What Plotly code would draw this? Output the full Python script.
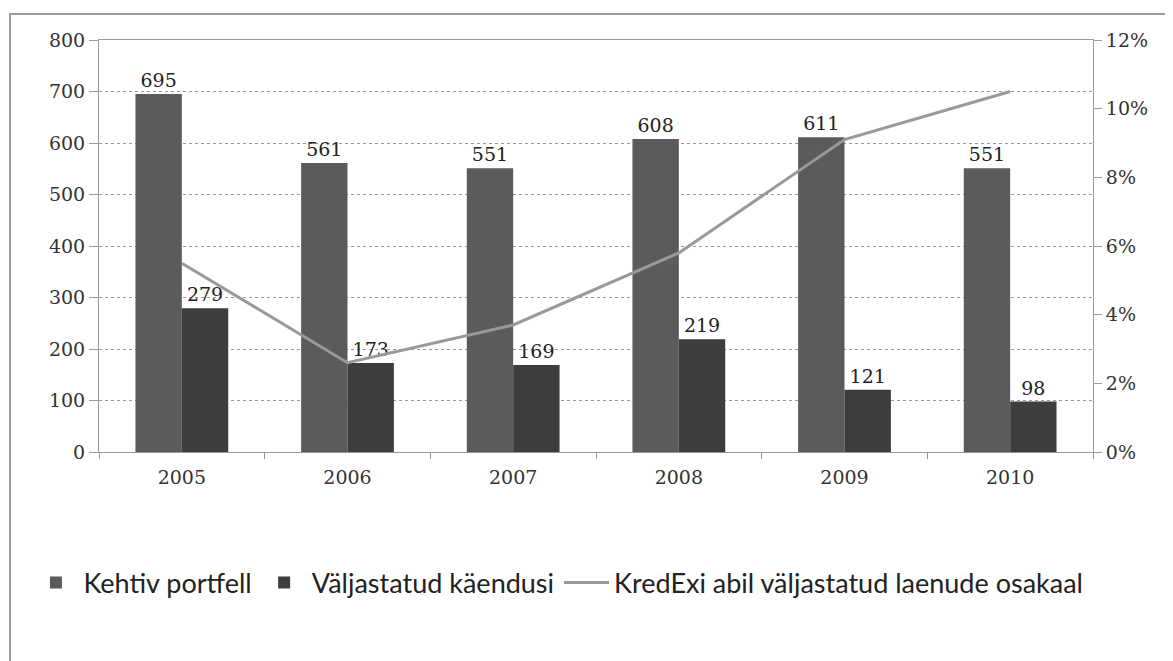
import plotly.graph_objects as go

years = ["2005", "2006", "2007", "2008", "2009", "2010"]
kehtiv = [695, 561, 551, 608, 611, 551]
valjastatud = [279, 173, 169, 219, 121, 98]
osakaal = [5.5, 2.6, 3.7, 5.8, 9.1, 10.5]

serif = "DejaVu Serif"

fig = go.Figure()
fig.add_bar(x=years, y=kehtiv, name="Kehtiv portfell",
            marker=dict(color="#5b5b5b", line=dict(width=0)),
            text=kehtiv, textposition="outside",
            textfont=dict(family=serif, size=19, color="#222"), cliponaxis=False)
fig.add_bar(x=years, y=valjastatud, name="Väljastatud käendusi",
            marker=dict(color="#3d3d3d", line=dict(width=0)),
            text=valjastatud, textposition="outside",
            textfont=dict(family=serif, size=19, color="#222"), cliponaxis=False)
fig.add_scatter(x=years, y=osakaal, name="KredExi abil väljastatud laenude osakaal",
                yaxis="y2", mode="lines", line=dict(color="#999", width=3))

fig.update_layout(
    width=1173, height=661,
    margin=dict(l=91, r=88, t=32, b=217),
    paper_bgcolor="white", plot_bgcolor="white",
    barmode="group", bargap=0.44, bargroupgap=0,
    font=dict(family=serif, size=19, color="#333"),
    uniformtext=dict(minsize=19, mode="show"),
    xaxis=dict(showline=True, linecolor="#999", mirror=True,
               ticks="outside", tickson="boundaries", ticklen=6, tickcolor="#999",
               ticklabelstandoff=8,
               tickfont=dict(family=serif, size=19, color="#333")),
    yaxis=dict(range=[0, 800], dtick=100, showgrid=True, gridcolor="#999",
               griddash="dot", showline=True, linecolor="#999",
               ticks="outside", ticklen=9, tickcolor="#999",
               tickfont=dict(family=serif, size=19, color="#333"), zeroline=False),
    yaxis2=dict(range=[0, 12], dtick=2, ticksuffix="%", overlaying="y",
                side="right", showgrid=False, showline=True, linecolor="#999",
                ticks="outside", ticklen=8, tickcolor="#999",
                tickfont=dict(family=serif, size=19, color="#333"), zeroline=False),
    legend=dict(orientation="h", x=-0.071, xanchor="left",
                y=-0.318, yanchor="middle",
                font=dict(family="Lato", size=27, color="#222"),
                itemwidth=45, traceorder="normal"),
    showlegend=True,
)

# outer chart frame
fig.add_shape(type="rect", xref="paper", yref="paper",
              x0=-0.0895, x1=1.1, y0=-0.55, y1=1.063,
              line=dict(color="#999", width=2), fillcolor="rgba(0,0,0,0)", layer="below")

fig.write_html("out.html")
